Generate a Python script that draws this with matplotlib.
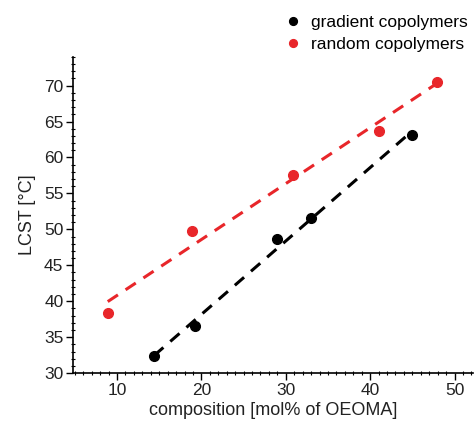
import numpy as np
from matplotlib import pyplot as plt
from matplotlib.ticker import MultipleLocator

plt.rcParams['font.family'] = ['Liberation Sans', 'DejaVu Sans']

# composition [mol% OEOMA] and LCST values
grad_x = [14.4, 19.3, 28.9, 33.0, 45.0]
grad_y = [32.4, 36.6, 48.6, 51.6, 63.1]
rand_x = [8.9, 18.9, 30.9, 41.0, 47.9]
rand_y = [38.4, 49.8, 57.6, 63.65, 70.5]

black = '#000000'
red = '#e8262a'
txt = '#222222'

fig = plt.figure(figsize=(4.75, 4.24), dpi=100)
ax = fig.add_axes([0.154, 0.120, 0.842, 0.746])

# linear fits through each series
for xs, ys, c in [(grad_x, grad_y, black), (rand_x, rand_y, red)]:
    k, b = np.polyfit(xs, ys, 1)
    xx = np.array([min(xs), max(xs)])
    ax.plot(xx, k * xx + b, '--', color=c, lw=2.2, dashes=(4, 3), zorder=2)

ax.plot(grad_x, grad_y, 'o', color=black, ms=7, label='gradient copolymers', zorder=3)
ax.plot(rand_x, rand_y, 'o', color=red, ms=7, label='random copolymers', zorder=3)

ax.set_xlim(4.8, 52.2)
ax.set_ylim(30, 74)
ax.set_xticks([10, 20, 30, 40, 50])
ax.set_yticks([30, 35, 40, 45, 50, 55, 60, 65, 70])
ax.xaxis.set_minor_locator(MultipleLocator(1))
ax.yaxis.set_minor_locator(MultipleLocator(1))
ax.tick_params(which='major', direction='out', length=5, width=1, labelsize=12.5,
               labelcolor=txt, pad=2)
ax.tick_params(which='minor', direction='inout', length=3, width=0.8)

for s in ['top', 'right']:
    ax.spines[s].set_visible(False)
for s in ['left', 'bottom']:
    ax.spines[s].set_linewidth(1.2)

ax.set_xlabel('composition [mol% of OEOMA]', fontsize=13, color=txt, labelpad=3)
ax.set_ylabel('LCST [°C]', fontsize=13, color=txt, labelpad=6)

ax.legend(loc='upper left', bbox_to_anchor=(0.581, 0.982), bbox_transform=fig.transFigure,
          frameon=False, fontsize=12.5, handletextpad=0.4, labelspacing=0.4,
          borderaxespad=0, handlelength=1.2, markerscale=0.8)

fig.savefig('out.png', dpi=100)
